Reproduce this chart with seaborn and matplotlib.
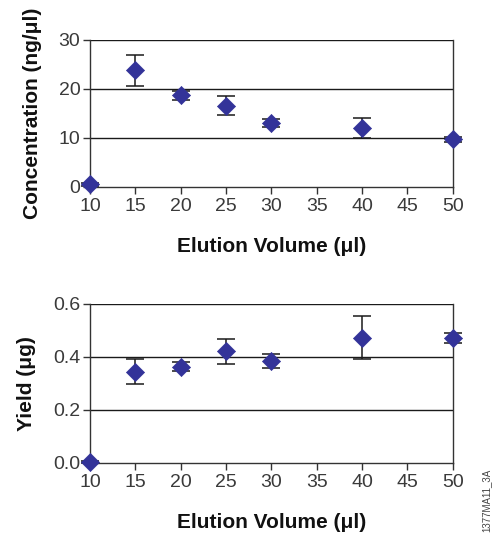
import matplotlib
matplotlib.use('Agg')
import matplotlib.pyplot as plt
import seaborn as sns
import pandas as pd

# Elution volumes (ul)
volume = [10, 15, 20, 25, 30, 40, 50]

# Concentration (ng/ul) with error
conc = [0.6, 23.8, 18.7, 16.6, 13.1, 12.0, 9.7]
conc_err = [0.3, 3.2, 0.85, 1.95, 0.8, 2.1, 0.5]

# Yield (ug) with error
yield_ug = [0.004, 0.345, 0.364, 0.421, 0.385, 0.473, 0.471]
yield_err = [0.005, 0.048, 0.017, 0.047, 0.025, 0.082, 0.02]

x_ticks = [10, 15, 20, 25, 30, 35, 40, 45, 50]

sns.set_style('white')
plt.rcParams['font.family'] = ['Liberation Sans', 'DejaVu Sans']

MARKER = '#333399'
TICK_COL = '#3a3a3a'

fig = plt.figure(figsize=(4.95, 5.35), dpi=100)
ax1 = fig.add_axes([0.1818, 0.6505, 0.733, 0.2748])
ax2 = fig.add_axes([0.1818, 0.1346, 0.733, 0.2972])


def draw(ax, y, err, ylim, yticks, yfmt, ylabel):
    df = pd.DataFrame({'x': volume, 'y': y})
    ax.errorbar(volume, y, yerr=err, fmt='none', ecolor='#1a1a1a',
                elinewidth=1.1, capsize=6.5, capthick=1.1, zorder=3,
                clip_on=False)
    sns.scatterplot(data=df, x='x', y='y', ax=ax, marker='D', s=85,
                    color=MARKER, edgecolor=MARKER, linewidth=0.5,
                    zorder=4, clip_on=False)
    ax.set_xlim(10, 50)
    ax.set_ylim(*ylim)
    ax.set_xticks(x_ticks)
    ax.set_yticks(yticks)
    ax.set_yticklabels([yfmt.format(v) for v in yticks])
    for v in yticks[1:]:
        ax.axhline(v, color='#1a1a1a', lw=1.0, zorder=1)
    for side in ['left', 'bottom', 'right']:
        ax.spines[side].set_visible(True)
        ax.spines[side].set_color('#333333')
        ax.spines[side].set_linewidth(1.0)
    ax.spines['top'].set_visible(False)
    ax.tick_params(axis='both', direction='out', length=5, width=1.0,
                   color='#333333', labelsize=14, labelcolor=TICK_COL,
                   pad=2)
    ax.tick_params(axis='x', bottom=True, pad=3)
    ax.tick_params(axis='y', left=True)
    ax.set_xlabel('Elution Volume (\u03bcl)', fontsize=15, fontweight='bold',
                  labelpad=16, color='#111111')
    ax.set_ylabel(ylabel, fontsize=15, fontweight='bold',
                  labelpad=12, color='#111111')


draw(ax1, conc, conc_err, (0, 30), [0, 10, 20, 30], '{:.0f}',
     'Concentration (ng/\u03bcl)')
draw(ax2, yield_ug, yield_err, (0, 0.6), [0.0, 0.2, 0.4, 0.6], '{:.1f}',
     'Yield (\u03bcg)')

fig.text(0.982, 0.005, '1377MA11_3A', rotation=90, fontsize=7,
         color='#444444', ha='center', va='bottom')

fig.savefig('out.png', dpi=100)
